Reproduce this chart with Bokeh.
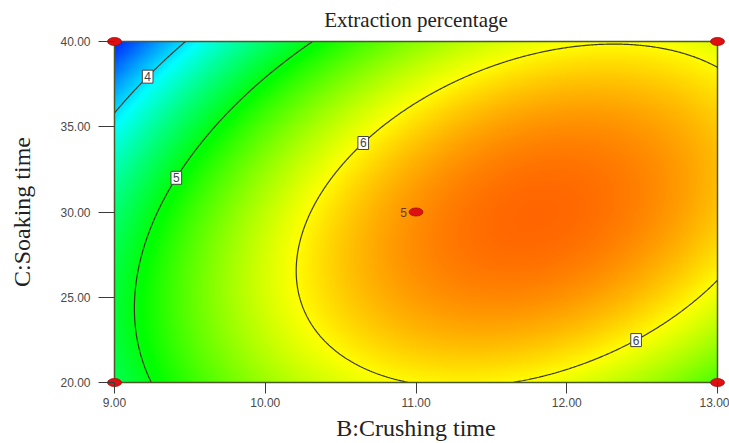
import numpy as np
from bokeh.plotting import figure
from bokeh.models import FixedTicker, NumeralTickFormatter, Label
from bokeh.embed import file_html
from bokeh.resources import INLINE

# Factor ranges (actual units)
B_range = [9.0, 13.0]     # B: Crushing time
C_range = [20.0, 40.0]    # C: Soaking time

# Quadratic response model in coded units (x = coded B, z = coded C)
intercept = 6.395
coef_B = 0.790
coef_C = -0.225
coef_BC = 0.500
coef_B2 = -0.977
coef_C2 = -0.613

# Colour scale limits of the response
scale_min = 3.17
scale_max = 6.93

contour_levels = [4, 5, 6]

# Contour label anchors: level, B position and approximate C
label_levels = [4, 5, 6, 6]
label_B = [9.22, 9.41, 10.65, 12.46]
label_C_guess = [38.4, 31.9, 34.4, 23.1]

# Design points
design_B = [9.0, 9.0, 13.0, 13.0, 11.0]
design_C = [20.0, 40.0, 20.0, 40.0, 30.0]
center_replicates = "5"

x_ticks = [9, 10, 11, 12, 13]
y_ticks = [20, 25, 30, 35, 40]


def code_B(b):
    mid = (B_range[0] + B_range[1]) / 2
    half = (B_range[1] - B_range[0]) / 2
    return (np.asarray(b) - mid) / half


def code_C(c):
    mid = (C_range[0] + C_range[1]) / 2
    half = (C_range[1] - C_range[0]) / 2
    return (np.asarray(c) - mid) / half


def response(b, c):
    x = code_B(b)
    z = code_C(c)
    return (intercept + coef_B * x + coef_C * z + coef_BC * x * z
            + coef_B2 * x ** 2 + coef_C2 * z ** 2)


def c_on_contour(level, b, c_guess):
    x = code_B(b)
    roots = np.roots([coef_C2, coef_C + coef_BC * x,
                      intercept + coef_B * x + coef_B2 * x ** 2 - level])
    roots = roots[np.isreal(roots)].real
    mid = (C_range[0] + C_range[1]) / 2
    half = (C_range[1] - C_range[0]) / 2
    cs = mid + half * roots
    return float(cs[np.argmin(np.abs(cs - c_guess))])


# Response grid
nx, ny = 480, 320
bs = np.linspace(B_range[0], B_range[1], nx)
cs = np.linspace(C_range[0], C_range[1], ny)
BB, CC = np.meshgrid(bs, cs)
Z = response(BB, CC)

# Blue - cyan - green - yellow - red colour ramp
t = np.clip((Z - scale_min) / (scale_max - scale_min), 0, 1)
stops = [0, 0.25, 0.5, 0.75, 1.0]
r = np.interp(t, stops, [0, 0, 0, 255, 255])
g = np.interp(t, stops, [0, 255, 255, 255, 0])
bl = np.interp(t, stops, [255, 255, 0, 0, 0])
img = np.empty((ny, nx), dtype=np.uint32)
view = img.view(dtype=np.uint8).reshape((ny, nx, 4))
view[..., 0] = r.astype(np.uint8)
view[..., 1] = g.astype(np.uint8)
view[..., 2] = bl.astype(np.uint8)
view[..., 3] = 255

# Padding so the design-point markers on the corners are not clipped
pad_x = (B_range[1] - B_range[0]) / 603 * 8
pad_y = (C_range[1] - C_range[0]) / 342 * 8

p = figure(width=729, height=443, output_backend="svg", toolbar_location=None,
           x_range=(B_range[0] - pad_x, B_range[1] + pad_x),
           y_range=(C_range[0] - pad_y, C_range[1] + pad_y),
           min_border_left=106, min_border_right=4,
           min_border_top=33, min_border_bottom=52)
p.outline_line_color = None
p.grid.visible = False
p.background_fill_color = "white"

p.image_rgba(image=[img], x=B_range[0], y=C_range[0],
             dw=B_range[1] - B_range[0], dh=C_range[1] - C_range[0])

p.contour(x=bs, y=cs, z=Z, levels=contour_levels,
          line_color="#3b3b22", line_width=1.2)

# Frame around the design region
p.rect(x=[(B_range[0] + B_range[1]) / 2], y=[(C_range[0] + C_range[1]) / 2],
       width=B_range[1] - B_range[0], height=C_range[1] - C_range[0],
       fill_color=None, line_color="#4a5a28", line_width=1.5)

# Contour labels
for lev, b, cg in zip(label_levels, label_B, label_C_guess):
    c = c_on_contour(lev, b, cg)
    p.add_layout(Label(x=b, y=c, text=str(lev), text_align="center",
                       text_baseline="middle", text_font="Liberation Sans",
                       text_font_size="12px", text_color="#444444",
                       background_fill_color="white",
                       border_line_color="#444444", border_line_width=1,
                       padding=2))

# Design points
p.ellipse(x=design_B, y=design_C, width=14, height=8,
          width_units="screen", height_units="screen",
          fill_color="#dd1111", line_color="#aa0a0a", line_width=0.8)
p.add_layout(Label(x=design_B[-1], y=design_C[-1], text=center_replicates,
                   x_offset=-9, text_align="right", text_baseline="middle",
                   text_font="Liberation Sans", text_font_size="12px",
                   text_color="#6e3a2c"))

# Title
p.title.text = "Extraction percentage"
p.title.align = "center"
p.title.text_font = "Liberation Serif"
p.title.text_font_size = "21px"
p.title.text_font_style = "normal"
p.title.text_color = "#222222"
p.title.standoff = 3

# Axes
for ax in (p.xaxis[0], p.yaxis[0]):
    ax.axis_line_color = None
    ax.minor_tick_line_color = None
    ax.major_tick_line_color = "#3a3a3a"
    ax.major_tick_line_width = 1
    ax.major_label_text_font = "Liberation Sans"
    ax.major_label_text_font_size = "12px"
    ax.major_label_text_color = "#4a4a4a"
    ax.axis_label_text_font = "Liberation Serif"
    ax.axis_label_text_font_size = "24px"
    ax.axis_label_text_font_style = "normal"
    ax.axis_label_text_color = "#222222"
    ax.formatter = NumeralTickFormatter(format="0.00")

p.xaxis[0].ticker = FixedTicker(ticks=x_ticks)
p.xaxis[0].axis_label = "B:Crushing time"
p.xaxis[0].major_tick_in = 8
p.xaxis[0].major_tick_out = 3
p.xaxis[0].major_label_standoff = 4
p.xaxis[0].axis_label_standoff = 5

p.yaxis[0].ticker = FixedTicker(ticks=y_ticks)
p.yaxis[0].axis_label = "C:Soaking time"
p.yaxis[0].major_tick_in = 8
p.yaxis[0].major_tick_out = 8
p.yaxis[0].major_label_standoff = 8
p.yaxis[0].axis_label_standoff = 22

open("out.html", "w").write(file_html(p, INLINE))
